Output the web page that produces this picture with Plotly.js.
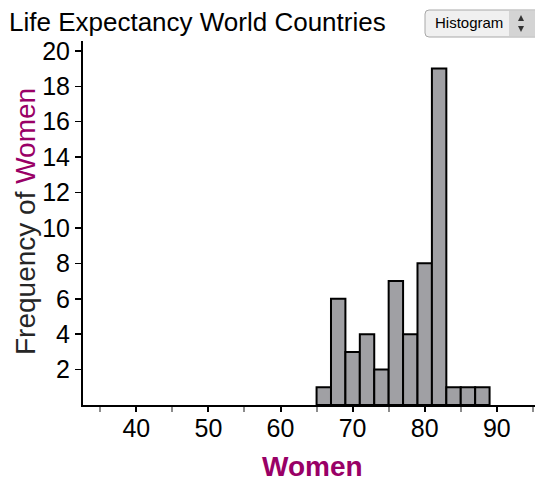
<!DOCTYPE html>
<html>
<head>
<meta charset="utf-8">
<script src="https://cdn.plot.ly/plotly-3.0.1.min.js"></script>
<style>
html,body{margin:0;padding:0;background:#fff;}
#chart{width:535px;height:482px;}
</style>
</head>
<body>
<div id="chart"></div>
<script>
// Histogram bins of women's life expectancy (bin start, width 2 years)
var binStarts = [65, 67, 69, 71, 73, 75, 77, 79, 81, 83, 85, 87];
var binWidth = 2;
var counts = [1, 6, 3, 4, 2, 7, 4, 8, 19, 1, 1, 1];
var xTickVals = [40, 50, 60, 70, 80, 90];
var xMinorTickVals = [35, 45, 55, 65, 75, 85, 95];
var yTickVals = [2, 4, 6, 8, 10, 12, 14, 16, 18, 20];

var centers = binStarts.map(function(s){ return s + binWidth / 2; });

var FONT = "Liberation Sans, Arial, sans-serif";
var PURPLE = "#990066";

// plot-area geometry in pixels (for placing overlay items)
var L = 83, T = 41, W = 535 - 83, H = 482 - 41 - 77;
function px(x){ return (x - L) / W; }
function py(y){ return (T + H - y) / H; }

// rounded rectangle path in paper coords from pixel box
function roundRect(x0, y0, x1, y1, r){
  var p = [
    "M", px(x0 + r), py(y0),
    "L", px(x1 - r), py(y0),
    "Q", px(x1), py(y0), px(x1), py(y0 + r),
    "L", px(x1), py(y1 - r),
    "Q", px(x1), py(y1), px(x1 - r), py(y1),
    "L", px(x0 + r), py(y1),
    "Q", px(x0), py(y1), px(x0), py(y1 - r),
    "L", px(x0), py(y0 + r),
    "Q", px(x0), py(y0), px(x0 + r), py(y0),
    "Z"
  ];
  return p.join(" ");
}

var trace = {
  type: "bar",
  x: centers,
  y: counts,
  width: binWidth,
  marker: {color: "#a0a0a4", line: {color: "#000", width: 2}},
  hoverinfo: "x+y"
};

var layout = {
  width: 535, height: 482,
  margin: {l: L, r: 0, t: T, b: 77},
  paper_bgcolor: "#fff", plot_bgcolor: "#fff",
  showlegend: false,
  font: {family: FONT, color: "#000"},
  title: {
    text: "Life Expectancy World Countries",
    font: {family: FONT, size: 26, color: "#000"},
    xref: "container", yref: "container",
    x: 9/535, xanchor: "left",
    y: 1 - 22/482, yanchor: "middle"
  },
  xaxis: {
    range: [32.6, 95.3],
    tickvals: xTickVals,
    ticks: "outside", ticklen: 5, tickwidth: 2, tickcolor: "#000",
    tickfont: {family: FONT, size: 25, color: "#000"},
    ticklabelstandoff: -5,
    showline: true, linecolor: "#000", linewidth: 2,
    showgrid: false, zeroline: false,
    minor: {tickvals: xMinorTickVals, ticks: "outside", ticklen: 5, tickwidth: 2, tickcolor: "#8c8c8c", showgrid: false},
    fixedrange: true
  },
  yaxis: {
    range: [0, 20.56],
    tickvals: yTickVals,
    ticks: "outside", ticklen: 6, tickwidth: 1.5, tickcolor: "#000",
    tickfont: {family: FONT, size: 25, color: "#000"},
    showline: true, linecolor: "#000", linewidth: 2,
    showgrid: false, zeroline: false,
    fixedrange: true
  },
  annotations: [
    {
      text: "Frequency of <span style='color:" + PURPLE + "'>Women</span>",
      textangle: -90,
      xref: "paper", yref: "paper",
      x: px(25), y: py(222),
      xanchor: "center", yanchor: "middle",
      showarrow: false,
      font: {family: FONT, size: 28, color: "#262626"}
    },
    {
      text: "<b>Women</b>",
      xref: "paper", yref: "paper",
      x: px(312), y: py(466),
      xanchor: "center", yanchor: "middle",
      showarrow: false,
      font: {family: FONT, size: 28, color: PURPLE}
    },
    {
      text: "Histogram",
      xref: "paper", yref: "paper",
      x: px(433), y: py(23),
      xanchor: "left", yanchor: "middle",
      showarrow: false,
      font: {family: FONT, size: 15, color: "#000"}
    }
  ],
  shapes: [
    {
      type: "path", xref: "paper", yref: "paper",
      path: roundRect(425, 10, 540, 37, 4),
      fillcolor: "#f0f0f0", line: {color: "#a8a8a8", width: 1}
    },
    {
      type: "rect", xref: "paper", yref: "paper",
      x0: px(509), x1: px(535),
      y0: py(36), y1: py(11),
      fillcolor: "#d4d4d4", line: {width: 0}
    },
    {
      type: "path", xref: "paper", yref: "paper",
      path: "M " + px(518) + " " + py(21) + " L " + px(524) + " " + py(21) + " L " + px(521) + " " + py(15) + " Z",
      fillcolor: "#333", line: {width: 0}
    },
    {
      type: "path", xref: "paper", yref: "paper",
      path: "M " + px(518) + " " + py(26) + " L " + px(524) + " " + py(26) + " L " + px(521) + " " + py(32) + " Z",
      fillcolor: "#333", line: {width: 0}
    }
  ]
};

Plotly.newPlot("chart", [trace], layout, {displayModeBar: false, staticPlot: true});
</script>
</body>
</html>
